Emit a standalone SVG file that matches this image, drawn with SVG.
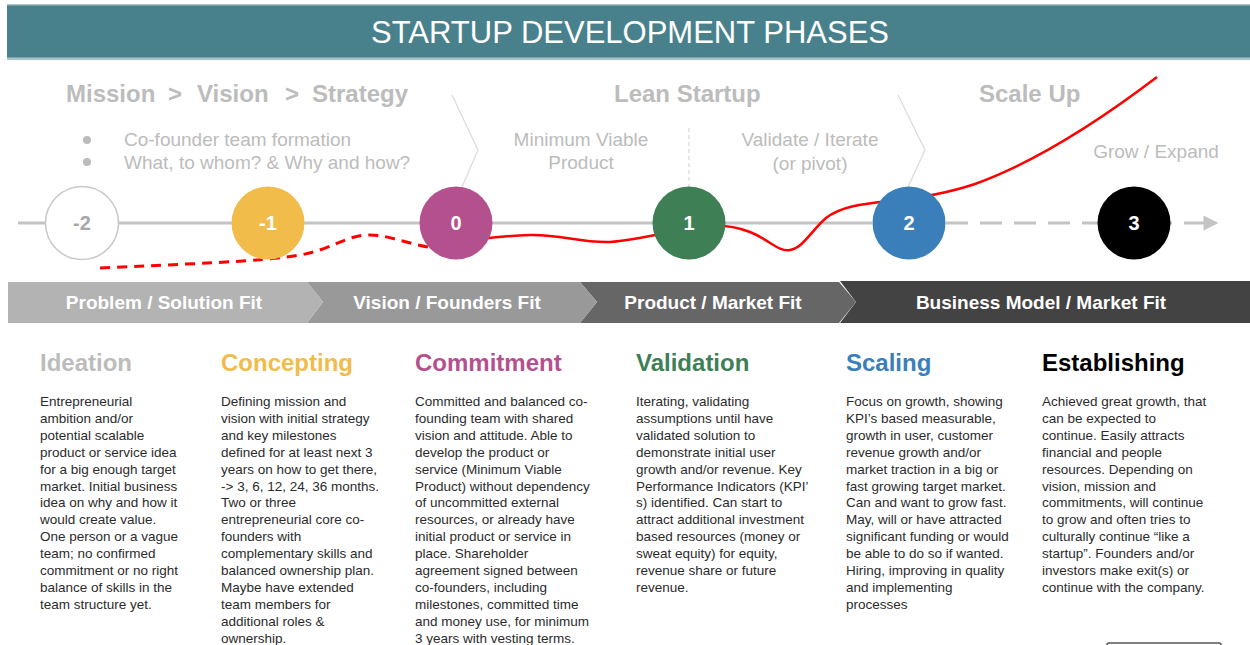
<svg xmlns="http://www.w3.org/2000/svg" width="1250" height="645" viewBox="0 0 1250 645">
<defs>
<style>
text{font-family:"Liberation Sans",Arial,sans-serif}
.title{font-size:31px;fill:#fff;text-anchor:middle}
.phase{font-size:24px;font-weight:bold;fill:#bcbcbc}
.sub{font-size:19px;fill:#bcbcbc}
.subc{font-size:19px;fill:#bcbcbc;text-anchor:middle}
.num{font-size:20px;font-weight:bold;fill:#fff;text-anchor:middle}
.band{font-size:19px;font-weight:bold;fill:#fff;text-anchor:middle}
.head{font-size:24px;font-weight:bold}
.body{font-size:13.5px;fill:#2b2b2b}
.chev{fill:none;stroke:#dcdcdc;stroke-width:1.3}
</style>
<marker id="arr" viewBox="0 0 10 10" refX="1" refY="5" markerWidth="6" markerHeight="5" orient="auto" markerUnits="strokeWidth">
<path d="M0,0 L10,5 L0,10 z" fill="#c4c4c4"/>
</marker>
</defs>
<rect width="1250" height="645" fill="#fff"/>
<g id="header">
<rect x="7" y="4" width="1243" height="56" fill="#a9c3c8"/>
<rect x="7" y="5.5" width="1243" height="52" fill="#48818c"/>
<text class="title" x="630" y="43">STARTUP DEVELOPMENT PHASES</text>
</g>
<g id="phases">
<text class="phase" y="102"><tspan x="66">Mission</tspan><tspan x="168">&gt;</tspan><tspan x="197">Vision</tspan><tspan x="285">&gt;</tspan><tspan x="312">Strategy</tspan></text>
<text class="phase" x="614" y="102">Lean Startup</text>
<text class="phase" x="979" y="102">Scale Up</text>
<circle cx="87" cy="140" r="4" fill="#bcbcbc"/>
<circle cx="87" cy="162" r="4" fill="#bcbcbc"/>
<text class="sub" x="124" y="146">Co-founder team formation</text>
<text class="sub" x="124" y="169">What, to whom? &amp; Why and how?</text>
<text class="subc" x="581" y="146">Minimum Viable</text>
<text class="subc" x="581" y="169">Product</text>
<text class="subc" x="810" y="146">Validate / Iterate</text>
<text class="subc" x="810" y="170">(or pivot)</text>
<text class="subc" x="1156" y="158">Grow / Expand</text>
<polyline class="chev" points="452,95 478,150 462,187"/>
<polyline class="chev" points="898,95 925,150 908,187"/>
<line x1="689" y1="128" x2="689" y2="187" stroke="#cfcfcf" stroke-width="1" stroke-dasharray="4 3"/>
</g>
<g id="connectors">
<line x1="18" y1="223" x2="872" y2="223" stroke="#c4c4c4" stroke-width="3"/>
<line x1="946" y1="223" x2="1205" y2="223" stroke="#c4c4c4" stroke-width="3" stroke-dasharray="22 12" marker-end="url(#arr)"/>
<path d="M100,268 C180,264 260,262 300,255 C330,250 345,236 367,235 C385,234 405,243 428,247" fill="none" stroke="#ff0000" stroke-width="3" stroke-dasharray="10 7"/>
<path d="M440,246 C470,240 500,236 530,235 C560,234 580,243 610,242 C630,241 650,236 690,228 C715,223 735,226 750,232 C770,240 778,252 790,250 C803,248 812,230 826,218 C840,207 860,204 890,201 C920,198 945,194 975,184 C1030,164 1090,128 1157,77" fill="none" stroke="#ff0000" stroke-width="2.5"/>
</g>
<g id="node-m2"><circle cx="82" cy="223" r="36.5" fill="#fff" stroke="#c8c8c8" stroke-width="1.5"/><text class="num" x="82" y="230" style="fill:#a8a8a8">-2</text></g>
<g id="node-m1"><circle cx="268" cy="223" r="36.5" fill="#f1bc4a"/><text class="num" x="268" y="230">-1</text></g>
<g id="node-0"><circle cx="456" cy="223" r="36.5" fill="#b5508f"/><text class="num" x="456" y="230">0</text></g>
<g id="node-1"><circle cx="689" cy="223" r="36.5" fill="#3f7f55"/><text class="num" x="689" y="230">1</text></g>
<g id="node-2"><circle cx="909" cy="223" r="36.5" fill="#3a7fba"/><text class="num" x="909" y="230">2</text></g>
<g id="node-3"><circle cx="1134" cy="223" r="36.5" fill="#000"/><text class="num" x="1134" y="230">3</text></g>
<g id="band">
<polygon points="1250,281 840,281 856,302 840,323 1250,323" fill="#434343"/>
<polygon points="580,282 839,282 856,302 839,323 580,323 597,302" fill="#666"/>
<polygon points="307,282 580,282 597,302 580,323 307,323 323,302" fill="#999"/>
<polygon points="8,282 307,282 323,302 307,323 8,323" fill="#b3b3b3"/>
<text class="band" x="164" y="309">Problem / Solution Fit</text>
<text class="band" x="447" y="309">Vision / Founders Fit</text>
<text class="band" x="713" y="309">Product / Market Fit</text>
<text class="band" x="1041" y="309">Business Model / Market Fit</text>
</g>
<g id="col-ideation">
<text class="head" x="40" y="371" fill="#bcbcbc">Ideation</text>
<text class="body" y="406"><tspan x="40">Entrepreneurial</tspan><tspan x="40" dy="16.9">ambition and/or</tspan><tspan x="40" dy="16.9">potential scalable</tspan><tspan x="40" dy="16.9">product or service idea</tspan><tspan x="40" dy="16.9">for a big enough target</tspan><tspan x="40" dy="16.9">market. Initial business</tspan><tspan x="40" dy="16.9">idea on why and how it</tspan><tspan x="40" dy="16.9">would create value.</tspan><tspan x="40" dy="16.9">One person or a vague</tspan><tspan x="40" dy="16.9">team; no confirmed</tspan><tspan x="40" dy="16.9">commitment or no right</tspan><tspan x="40" dy="16.9">balance of skills in the</tspan><tspan x="40" dy="16.9">team structure yet.</tspan></text>
</g>
<g id="col-concepting">
<text class="head" x="221" y="371" fill="#f1bc4a">Concepting</text>
<text class="body" y="406"><tspan x="221">Defining mission and</tspan><tspan x="221" dy="16.9">vision with initial strategy</tspan><tspan x="221" dy="16.9">and key milestones</tspan><tspan x="221" dy="16.9">defined for at least next 3</tspan><tspan x="221" dy="16.9">years on how to get there,</tspan><tspan x="221" dy="16.9">-&gt; 3, 6, 12, 24, 36 months.</tspan><tspan x="221" dy="16.9">Two or three</tspan><tspan x="221" dy="16.9">entrepreneurial core co-</tspan><tspan x="221" dy="16.9">founders with</tspan><tspan x="221" dy="16.9">complementary skills and</tspan><tspan x="221" dy="16.9">balanced ownership plan.</tspan><tspan x="221" dy="16.9">Maybe have extended</tspan><tspan x="221" dy="16.9">team members for</tspan><tspan x="221" dy="16.9">additional roles &amp;</tspan><tspan x="221" dy="16.9">ownership.</tspan></text>
</g>
<g id="col-commitment">
<text class="head" x="415" y="371" fill="#b5508f">Commitment</text>
<text class="body" y="406"><tspan x="415">Committed and balanced co-</tspan><tspan x="415" dy="16.9">founding team with shared</tspan><tspan x="415" dy="16.9">vision and attitude. Able to</tspan><tspan x="415" dy="16.9">develop the product or</tspan><tspan x="415" dy="16.9">service (Minimum Viable</tspan><tspan x="415" dy="16.9">Product) without dependency</tspan><tspan x="415" dy="16.9">of uncommitted external</tspan><tspan x="415" dy="16.9">resources, or already have</tspan><tspan x="415" dy="16.9">initial product or service in</tspan><tspan x="415" dy="16.9">place. Shareholder</tspan><tspan x="415" dy="16.9">agreement signed between</tspan><tspan x="415" dy="16.9">co-founders, including</tspan><tspan x="415" dy="16.9">milestones, committed time</tspan><tspan x="415" dy="16.9">and money use, for minimum</tspan><tspan x="415" dy="16.9">3 years with vesting terms.</tspan></text>
</g>
<g id="col-validation">
<text class="head" x="636" y="371" fill="#3f7f55">Validation</text>
<text class="body" y="406"><tspan x="636">Iterating, validating</tspan><tspan x="636" dy="16.9">assumptions until have</tspan><tspan x="636" dy="16.9">validated solution to</tspan><tspan x="636" dy="16.9">demonstrate initial user</tspan><tspan x="636" dy="16.9">growth and/or revenue. Key</tspan><tspan x="636" dy="16.9">Performance Indicators (KPI’</tspan><tspan x="636" dy="16.9">s) identified. Can start to</tspan><tspan x="636" dy="16.9">attract additional investment</tspan><tspan x="636" dy="16.9">based resources (money or</tspan><tspan x="636" dy="16.9">sweat equity) for equity,</tspan><tspan x="636" dy="16.9">revenue share or future</tspan><tspan x="636" dy="16.9">revenue.</tspan></text>
</g>
<g id="col-scaling">
<text class="head" x="846" y="371" fill="#3a7fba">Scaling</text>
<text class="body" y="406"><tspan x="846">Focus on growth, showing</tspan><tspan x="846" dy="16.9">KPI’s based measurable,</tspan><tspan x="846" dy="16.9">growth in user, customer</tspan><tspan x="846" dy="16.9">revenue growth and/or</tspan><tspan x="846" dy="16.9">market traction in a big or</tspan><tspan x="846" dy="16.9">fast growing target market.</tspan><tspan x="846" dy="16.9">Can and want to grow fast.</tspan><tspan x="846" dy="16.9">May, will or have attracted</tspan><tspan x="846" dy="16.9">significant funding or would</tspan><tspan x="846" dy="16.9">be able to do so if wanted.</tspan><tspan x="846" dy="16.9">Hiring, improving in quality</tspan><tspan x="846" dy="16.9">and implementing</tspan><tspan x="846" dy="16.9">processes</tspan></text>
</g>
<g id="col-establishing">
<text class="head" x="1042" y="371" fill="#000">Establishing</text>
<text class="body" y="406"><tspan x="1042">Achieved great growth, that</tspan><tspan x="1042" dy="16.9">can be expected to</tspan><tspan x="1042" dy="16.9">continue. Easily attracts</tspan><tspan x="1042" dy="16.9">financial and people</tspan><tspan x="1042" dy="16.9">resources. Depending on</tspan><tspan x="1042" dy="16.9">vision, mission and</tspan><tspan x="1042" dy="16.9">commitments, will continue</tspan><tspan x="1042" dy="16.9">to grow and often tries to</tspan><tspan x="1042" dy="16.9">culturally continue “like a</tspan><tspan x="1042" dy="16.9">startup”. Founders and/or</tspan><tspan x="1042" dy="16.9">investors make exit(s) or</tspan><tspan x="1042" dy="16.9">continue with the company.</tspan></text>
</g>
<rect x="1107" y="643" width="114" height="20" rx="2" fill="none" stroke="#555" stroke-width="1.5"/>
</svg>
